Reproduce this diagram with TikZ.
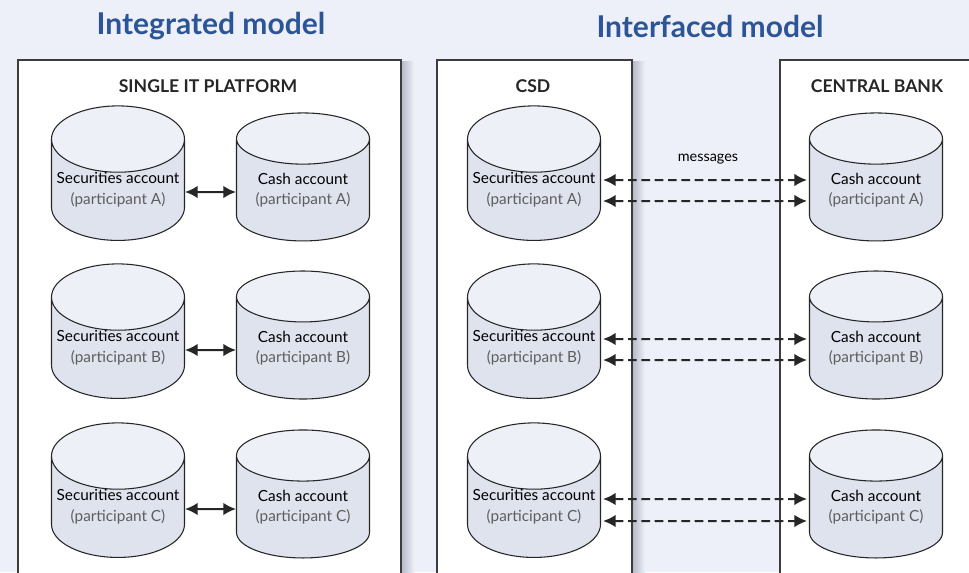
\documentclass[tikz,border=0pt]{standalone}
\usepackage{fontspec}
\setmainfont{Lato}
\usetikzlibrary{shapes.geometric,arrows.meta,positioning}

\definecolor{pagebg}{HTML}{EDF0F8}
\definecolor{titleblue}{HTML}{2B5596}
\definecolor{cylbody}{HTML}{DFE3EE}
\definecolor{cyltop}{HTML}{EEF0F7}
\definecolor{framegrey}{HTML}{3C3C3C}
\definecolor{subgrey}{HTML}{5E5E5E}
\definecolor{shadowgrey}{HTML}{B3B8C5}

\tikzset{
  account/.style={cylinder, shape border rotate=90, aspect=0.54, draw=black!85, line width=0.8pt,
    minimum width=99.75pt, minimum height=96pt, inner sep=0pt,
    cylinder uses custom fill, cylinder body fill=cylbody, cylinder end fill=cyltop,
    align=center, font=\fontsize{11.5}{15.5}\selectfont},
  platform/.style={draw=framegrey, line width=1.5pt, fill=white},
  heading/.style={font=\bfseries\fontsize{13.2}{15}\selectfont, text=black!85},
  modeltitle/.style={font=\bfseries\fontsize{22.5}{24}\selectfont, text=titleblue},
  link/.style={{Latex[length=9.5pt,width=9.5pt]}-{Latex[length=9.5pt,width=9.5pt]}, line width=1.5pt, black!85},
  msglink/.style={link, dash pattern=on 6.5pt off 3.5pt, shorten <=1.5pt, shorten >=1.5pt},
}
\newcommand{\partof}[1]{\\{\color{subgrey}(participant #1)}}

\begin{document}
\begin{tikzpicture}[x=0.75pt,y=0.75pt,yscale=-1,xscale=1]
  \clip (0,0) rectangle (969,572);
  \fill[pagebg] (0,0) rectangle (969,572); % page

  % Titles
  \node[modeltitle] (integrated) at (211,26) {Integrated model};
  \node[modeltitle] (interfaced) at (710,26) {Interfaced model};

  % Frames, with a soft shadow on the right edge
  \shade[left color=shadowgrey, right color=pagebg] (401,61) rectangle (414,580);
  \shade[left color=shadowgrey, right color=pagebg] (632,61) rectangle (645,580);
  \draw[platform] (18,60) rectangle (401,590); % single platform
  \draw[platform] (437,60) rectangle (632,590); % CSD
  \draw[platform] (780,60) rectangle (990,590); % central bank

  \node[heading] (single) at (208,86) {SINGLE IT PLATFORM};
  \node[heading] (csd) at (533,86) {CSD};
  \node[heading] (cb) at (877,86) {CENTRAL BANK};

  % Integrated model: accounts
  \node[account] (secA) at (118,190) {Securities account\partof{A}};
  \node[account] (cashA) at (303,190) {Cash account\partof{A}};
  \node[account] (secB) at (118,348) {Securities account\partof{B}};
  \node[account] (cashB) at (303,348) {Cash account\partof{B}};
  \node[account] (secC) at (118,507) {Securities account\partof{C}};
  \node[account] (cashC) at (303,507) {Cash account\partof{C}};

  % Interfaced model: accounts
  \node[account] (csdA) at (534,190) {Securities account\partof{A}};
  \node[account] (cbA) at (876,190) {Cash account\partof{A}};
  \node[account] (csdB) at (534,348) {Securities account\partof{B}};
  \node[account] (cbB) at (876,348) {Cash account\partof{B}};
  \node[account] (csdC) at (534,507) {Securities account\partof{C}};
  \node[account] (cbC) at (876,507) {Cash account\partof{C}};

  % Internal links
  \draw[link] ([yshift=1.5pt]secA.east) -- ([yshift=1.5pt]cashA.west);
  \draw[link] ([yshift=1.5pt]secB.east) -- ([yshift=1.5pt]cashB.west);
  \draw[link] ([yshift=1.5pt]secC.east) -- ([yshift=1.5pt]cashC.west);

  % Messages between CSD and central bank
  \draw[msglink] ([yshift=8.25pt]csdA.east) -- ([yshift=8.25pt]cbA.west);
  \draw[msglink] ([yshift=-7.5pt]csdA.east) -- ([yshift=-7.5pt]cbA.west);
  \draw[msglink] ([yshift=9pt]csdB.east) -- ([yshift=9pt]cbB.west);
  \draw[msglink] ([yshift=-6.75pt]csdB.east) -- ([yshift=-6.75pt]cbB.west);
  \draw[msglink] ([yshift=10.5pt]csdC.east) -- ([yshift=10.5pt]cbC.west);
  \draw[msglink] ([yshift=-6pt]csdC.east) -- ([yshift=-6pt]cbC.west);
  \node[font=\fontsize{10.8}{12}\selectfont] (msg) at (708,159) {messages};
\end{tikzpicture}
\end{document}
